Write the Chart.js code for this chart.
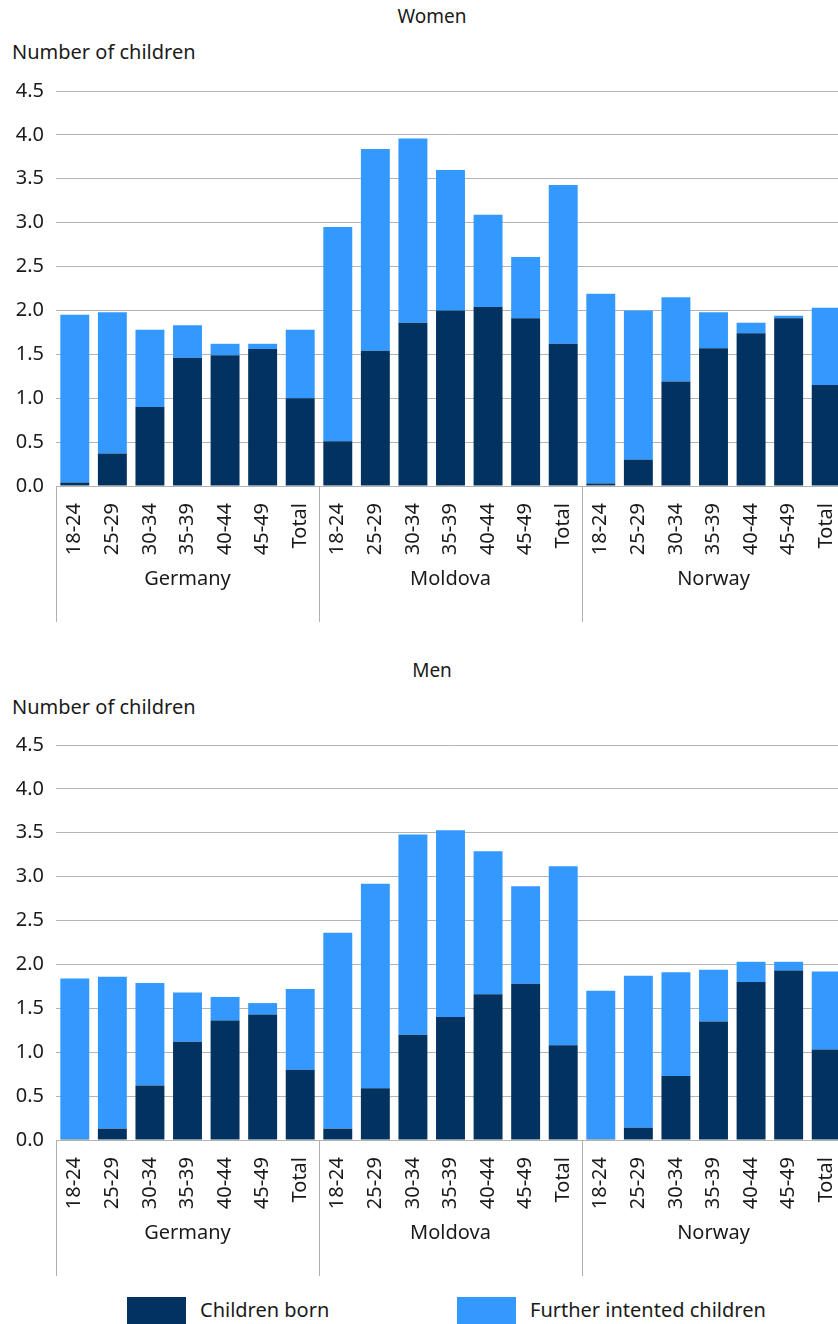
<!DOCTYPE html>
<html>
<head>
<meta charset="utf-8">
<script src="https://cdn.jsdelivr.net/npm/chart.js@4/dist/chart.umd.min.js"></script>
<style>
  html, body { margin: 0; padding: 0; background: #fff; overflow: hidden; width: 838px; height: 1324px; }
  body { position: relative; font-family: "Noto Sans", sans-serif; color: #1a1a1a; }
  .wrap { position: absolute; left: 0; width: 850px; height: 640px; }
  .title { position: absolute; font-size: 19px; line-height: 22px; transform: translate(-50%, -50%); white-space: nowrap; }
  .ylab { position: absolute; left: 12px; font-size: 20px; line-height: 24px; transform: translateY(-50%); white-space: nowrap; }
  .leg { position: absolute; font-size: 20px; line-height: 24px; white-space: nowrap; transform: translateY(-50%); }
  .box { position: absolute; width: 59px; height: 28px; }
</style>
</head>
<body>
<div class="title" style="left:432px; top:16px;">Women</div>
<div class="ylab" style="top:52px;">Number of children</div>
<div class="wrap" style="top:0px;"><canvas id="women" width="850" height="640"></canvas></div>

<div class="title" style="left:432px; top:670px;">Men</div>
<div class="ylab" style="top:707px;">Number of children</div>
<div class="wrap" style="top:654px;"><canvas id="men" width="850" height="640"></canvas></div>

<div class="box" style="left:127px; top:1297px; background:#013260;"></div>
<div class="leg" style="left:200px; top:1310px;">Children born</div>
<div class="box" style="left:457px; top:1297px; background:#3499fe;"></div>
<div class="leg" style="left:530px; top:1310px;">Further intented children</div>

<script>
const ageGroups = ['18-24','25-29','30-34','35-39','40-44','45-49','Total'];
const countries = ['Germany','Moldova','Norway'];
const yTicks = [0,0.5,1,1.5,2,2.5,3,3.5,4,4.5];

const womenBorn    = [0.04,0.37,0.90,1.46,1.49,1.56,1.00, 0.51,1.54,1.86,2.00,2.04,1.91,1.62, 0.03,0.30,1.19,1.57,1.74,1.91,1.15];
const womenFurther = [1.91,1.61,0.88,0.37,0.13,0.06,0.78, 2.44,2.30,2.10,1.60,1.05,0.70,1.81, 2.16,1.70,0.96,0.41,0.12,0.03,0.88];
const menBorn      = [0.01,0.13,0.62,1.12,1.36,1.43,0.80, 0.13,0.59,1.20,1.40,1.66,1.78,1.08, 0.01,0.14,0.73,1.35,1.80,1.93,1.03];
const menFurther   = [1.83,1.73,1.17,0.56,0.27,0.13,0.92, 2.23,2.33,2.28,2.13,1.63,1.11,2.04, 1.69,1.73,1.18,0.59,0.23,0.10,0.89];

const seriesNames = ['Children born','Further intented children'];
const colors = ['#013260','#3499fe'];
const FONT = '"Noto Sans", sans-serif';
const TEXT = '#1a1a1a';

const labels = [];
countries.forEach(c => ageGroups.forEach(a => labels.push(a)));

const groupPlugin = {
  id: 'groups',
  afterDraw(chart) {
    const x = chart.scales.x;
    const ctx = chart.ctx;
    const n = ageGroups.length;
    const bounds = [x.left];
    for (let g = 1; g < countries.length; g++) {
      const k = g * n;
      bounds.push((x.getPixelForValue(k - 1) + x.getPixelForValue(k)) / 2);
    }
    bounds.push(x.right);
    const yTop = chart.chartArea.bottom;
    ctx.save();
    ctx.strokeStyle = '#b0b0b0';
    ctx.lineWidth = 1;
    bounds.forEach(b => {
      ctx.beginPath();
      ctx.moveTo(Math.round(b) + 0.5, yTop);
      ctx.lineTo(Math.round(b) + 0.5, yTop + 136);
      ctx.stroke();
    });
    ctx.fillStyle = TEXT;
    ctx.font = '20px ' + FONT;
    ctx.textAlign = 'center';
    ctx.textBaseline = 'middle';
    countries.forEach((c, i) => {
      ctx.fillText(c, (bounds[i] + bounds[i + 1]) / 2, yTop + 93);
    });
    ctx.restore();
  }
};

function makeChart(id, born, further) {
  return new Chart(document.getElementById(id), {
    type: 'bar',
    data: {
      labels: labels,
      datasets: [
        { label: seriesNames[0], data: born, backgroundColor: colors[0], barPercentage: 0.77, categoryPercentage: 1 },
        { label: seriesNames[1], data: further, backgroundColor: colors[1], barPercentage: 0.77, categoryPercentage: 1 }
      ]
    },
    options: {
      responsive: false,
      animation: false,
      layout: { padding: { top: 91, right: 5, left: 0, bottom: 0 } },
      plugins: { legend: { display: false }, tooltip: { enabled: false } },
      scales: {
        x: {
          stacked: true,
          grid: { display: false },
          border: { display: false },
          ticks: {
            autoSkip: false, minRotation: 90, maxRotation: 90, padding: 9,
            color: TEXT, font: { family: FONT, size: 20 }
          },
          afterFit(s) { s.height = 154; s.paddingLeft = 0; s.paddingRight = 0; }
        },
        y: {
          stacked: true,
          min: 0, max: 4.5,
          afterBuildTicks(s) { s.ticks = yTicks.map(v => ({ value: v })); },
          grid: { color: '#b4b4b4', lineWidth: 1, drawTicks: false },
          border: { display: false },
          ticks: {
            padding: 12, color: TEXT, font: { family: FONT, size: 20 },
            callback: v => Number(v).toFixed(1)
          },
          afterFit(s) { s.width = 56; s.paddingTop = 0; s.paddingBottom = 0; }
        }
      }
    },
    plugins: [groupPlugin]
  });
}

makeChart('women', womenBorn, womenFurther);
makeChart('men', menBorn, menFurther);
</script>
</body>
</html>
